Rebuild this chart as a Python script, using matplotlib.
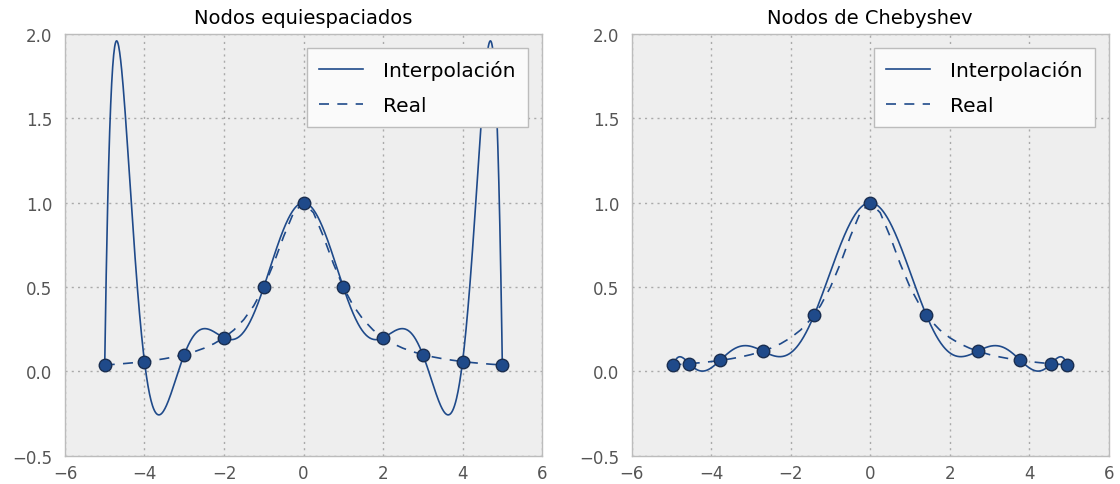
import numpy as np
import matplotlib
matplotlib.use("Agg")
import matplotlib.pyplot as plt

# Interpolación de la función de Runge con 11 nodos
eq_nodes_x = [-5, -4, -3, -2, -1, 0, 1, 2, 3, 4, 5]
eq_nodes_y = [0.0385, 0.0588, 0.1, 0.2, 0.5, 1.0, 0.5, 0.2, 0.1, 0.0588, 0.0385]

cheb_nodes_x = [4.949, 4.548, 3.779, 2.703, 1.409, 0.0,
                -1.409, -2.703, -3.779, -4.548, -4.949]
cheb_nodes_y = [0.0392, 0.0461, 0.0654, 0.1204, 0.335, 1.0,
                0.335, 0.1204, 0.0654, 0.0461, 0.0392]

# función real muestreada cada 0.25 en [-5, 5]
real_half = [1.0, 0.941, 0.8, 0.64, 0.5, 0.390, 0.308, 0.246, 0.2, 0.165,
             0.138, 0.117, 0.1, 0.0865, 0.0755, 0.0664, 0.0588, 0.0525,
             0.0471, 0.0424, 0.0385]
real_y = real_half[::-1] + real_half[1:]
real_x = np.linspace(-5, 5, len(real_y))

color = '#1f4a8a'
plt.rcParams.update({
    'font.family': 'DejaVu Sans',
    'axes.facecolor': '#eeeeee',
    'axes.edgecolor': '#bcbcbc',
    'axes.linewidth': 1.0,
    'grid.color': '#aaaaaa',
    'grid.linestyle': (0, (1.5, 3)),
    'grid.linewidth': 1.0,
    'xtick.color': '#555555',
    'ytick.color': '#555555',
    'xtick.labelsize': 12,
    'ytick.labelsize': 12,
    'xtick.major.size': 0,
    'ytick.major.size': 0,
    'xtick.major.pad': 6,
    'ytick.major.pad': 9,
})

def plot_panel(ax, nx, ny, title):
    coefs = np.polyfit(nx, ny, len(nx) - 1)
    xx = np.linspace(min(nx), max(nx), 800)
    ax.plot(xx, np.polyval(coefs, xx), color=color, lw=1.2, label='Interpolación')
    ax.plot(real_x, real_y, color=color, lw=1.2, ls=(0, (6, 5)), label='Real')
    ax.plot(nx, ny, 'o', color=color, markeredgecolor='#1a2e50', markersize=9)
    ax.set_xlim(-6, 6)
    ax.set_ylim(-0.5, 2.0)
    ax.set_xticks([-6, -4, -2, 0, 2, 4, 6])
    ax.set_yticks([-0.5, 0.0, 0.5, 1.0, 1.5, 2.0])
    ax.grid(True)
    ax.set_axisbelow(True)
    ax.set_title(title, fontsize=14, pad=8)
    leg = ax.legend(loc='upper right', fontsize=14.5, fancybox=False,
                    facecolor='#fafafa', framealpha=1.0,
                    handlelength=2.2, handletextpad=1.0,
                    labelspacing=0.8, borderpad=0.6, borderaxespad=0.7)
    leg.get_frame().set_edgecolor('#bcbcbc')

fig = plt.figure(figsize=(11.2, 4.85), dpi=100)
ax1 = fig.add_axes([0.058, 0.058, 0.426, 0.870])
ax2 = fig.add_axes([0.564, 0.058, 0.426, 0.870])
plot_panel(ax1, eq_nodes_x, eq_nodes_y, 'Nodos equiespaciados')
plot_panel(ax2, cheb_nodes_x, cheb_nodes_y, 'Nodos de Chebyshev')
fig.savefig('out.png', dpi=100)
